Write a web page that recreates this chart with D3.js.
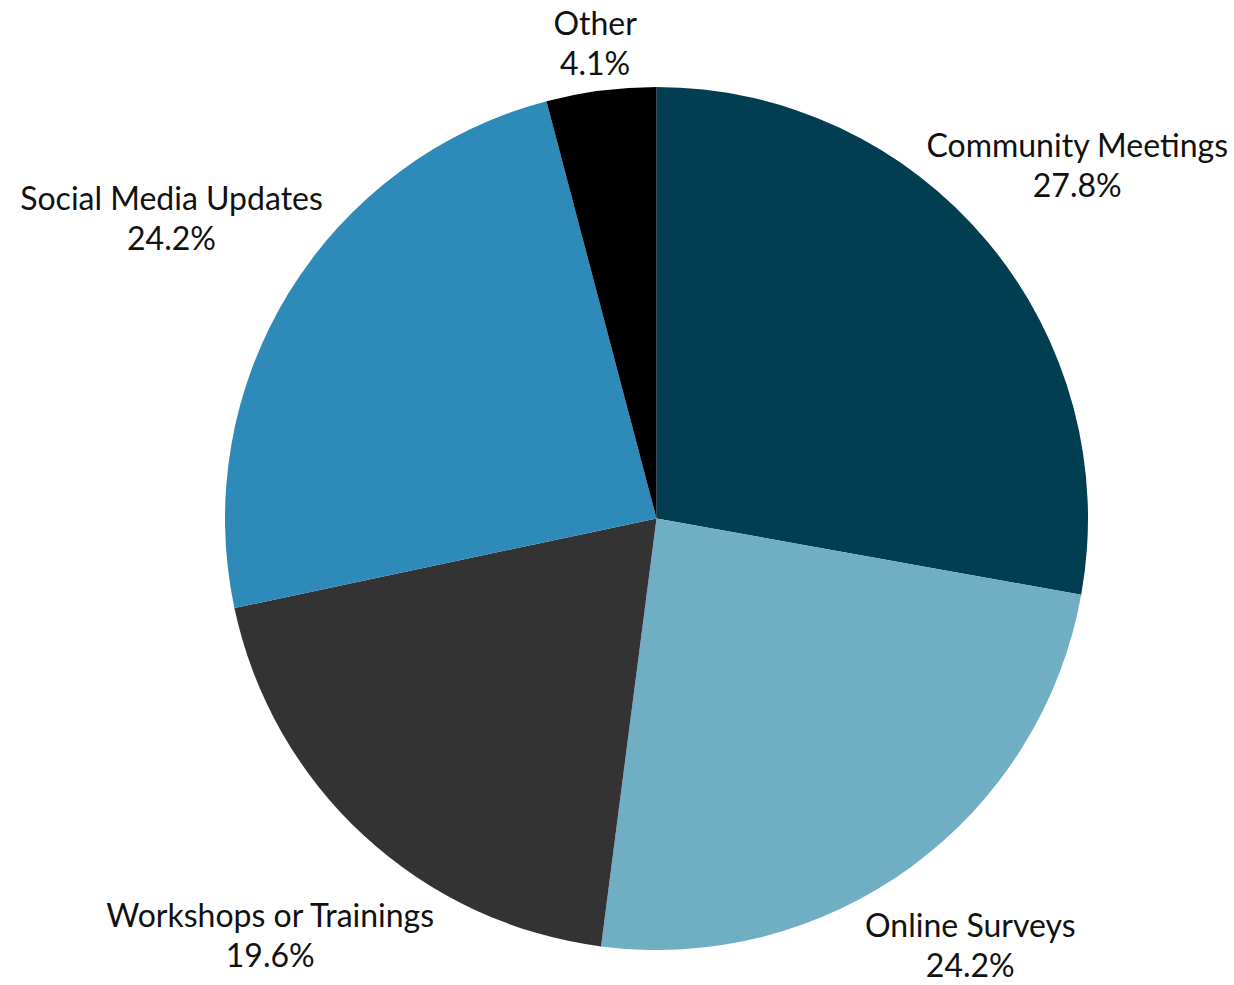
<!DOCTYPE html>
<head>
  <meta charset="utf-8">
  <title>Engagement channels</title>
  <script src="https://d3js.org/d3.v7.min.js"></script>
  <style>
    body { margin: 0; background: #fff; }
    .label { font-family: Lato, "Open Sans", sans-serif; font-size: 32px; fill: #111; }
  </style>
</head>
<body>
  <div id="root"></div>
  <script>
    // data
    var categories = ["Community Meetings", "Online Surveys", "Workshops or Trainings", "Social Media Updates", "Other"];
    var shares = [27.8, 24.2, 19.6, 24.2, 4.1];
    var colors = ["#023e51", "#70aec4", "#333333", "#2e8bb9", "#000000"];

    var width = 1234, height = 985;
    var cx = 656.5, cy = 518.5, radius = 431.5;
    var labelFactor = 1.32;
    // keep the label blocks inside the picture
    var labelTop = 45, labelBottom = 947, sidePad = 6;

    var data = categories.map(function(c, i) { return {name: c, value: shares[i]}; });

    var svg = d3.select("#root")
      .append("svg")
        .attr("width", width)
        .attr("height", height);

    var g = svg.append("g")
        .attr("transform", "translate(" + cx + "," + cy + ")");

    var pie = d3.pie()
      .sort(null)
      .value(function(d) { return d.value; });

    var arc = d3.arc()
      .innerRadius(0)
      .outerRadius(radius);

    var color = d3.scaleOrdinal()
      .domain(categories)
      .range(colors);

    var arcs = pie(data);

    g.selectAll("path")
      .data(arcs)
      .enter()
      .append("path")
        .attr("d", arc)
        .style("fill", function(d) { return color(d.data.name); });

    var labels = g.selectAll(".label")
      .data(arcs)
      .enter()
      .append("text")
        .attr("class", "label")
        .attr("text-anchor", "middle");

    labels.append("tspan")
      .attr("class", "name")
      .attr("x", 0)
      .attr("y", -10)
      .text(function(d) { return d.data.name; });

    labels.append("tspan")
      .attr("x", 0)
      .attr("y", 30)
      .text(function(d) { return d3.format(".1f")(d.data.value) + "%"; });

    // labels: along the mid angle, pulled in along the ray if they would leave the picture
    labels.attr("transform", function(d) {
      var w = d3.select(this).select(".name").node().getComputedTextLength();
      var a = (d.startAngle + d.endAngle) / 2;
      var ux = Math.sin(a), uy = -Math.cos(a);
      var t = radius * labelFactor;
      if (cy + uy * t < labelTop) t = (labelTop - cy) / uy;
      if (cy + uy * t > labelBottom) t = (labelBottom - cy) / uy;
      if (cx + ux * t + w / 2 > width - sidePad) t = (width - sidePad - w / 2 - cx) / ux;
      if (cx + ux * t - w / 2 < sidePad) t = (sidePad + w / 2 - cx) / ux;
      return "translate(" + [ux * t, uy * t] + ")";
    });
  </script>
</body>
